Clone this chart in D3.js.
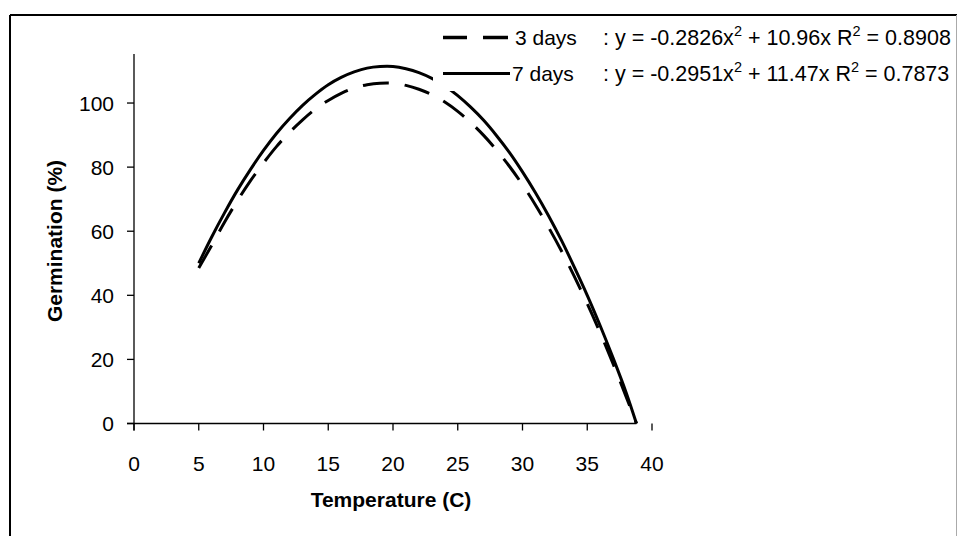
<!DOCTYPE html>
<html>
<head>
<meta charset="utf-8">
<script src="https://cdn.jsdelivr.net/npm/d3@7"></script>
<style>
  body { margin: 0; background: #fff; }
  svg { display: block; font-family: "Liberation Sans", Arial, sans-serif; }
</style>
</head>
<body>
<svg class="chart" width="957" height="536"></svg>
<script>
// temperatures (C) and germination (%)
const temps = [5, 6, 7, 8, 9, 10, 11, 12, 13, 14, 15, 16, 17, 18, 19, 20, 21, 22,
  23, 24, 25, 26, 27, 28, 29, 30, 31, 32, 33, 34, 35, 36, 37, 38, 38.8]
const days3 = [48.5, 55.6, 62.9, 69.6, 75.8, 81.3, 86.4, 90.8, 94.7, 98.1, 100.8, 103.0,
  104.7, 105.7, 106.2, 106.2, 105.5, 104.3, 102.6, 100.3, 97.4, 93.9, 89.9, 85.3,
  80.2, 74.5, 68.2, 61.3, 53.9, 45.9, 37.4, 28.3, 18.6, 8.4, 0]
const days7 = [50.0, 58.2, 65.8, 72.9, 79.3, 85.2, 90.5, 95.1, 99.2, 102.7, 105.7, 108.0,
  109.7, 110.9, 111.4, 111.4, 110.7, 109.5, 107.7, 105.3, 102.3, 98.7, 94.6, 89.8,
  84.5, 78.5, 72.0, 64.9, 57.2, 48.8, 40.0, 30.5, 20.4, 9.7, 0]

const xTicks = [0, 5, 10, 15, 20, 25, 30, 35, 40]
const yTicks = [0, 20, 40, 60, 80, 100]

const seriesNames = ['3 days', '7 days']
const equations = [
  ['-0.2826', '10.96', '0.8908'],
  ['-0.2951', '11.47', '0.7873']
]

const svg = d3.select('svg.chart')

const x = d3.scaleLinear().domain([0, 40]).range([134, 652])
const y = d3.scaleLinear().domain([0, 115.3]).range([423.5, 54])

// outer frame
svg.append('line').attr('x1', 10).attr('x2', 957).attr('y1', 15).attr('y2', 15)
  .attr('stroke', '#000').attr('stroke-width', 2)
svg.append('line').attr('x1', 10).attr('x2', 10).attr('y1', 15).attr('y2', 536)
  .attr('stroke', '#000').attr('stroke-width', 2)
svg.append('line').attr('x1', 956.5).attr('x2', 956.5).attr('y1', 15).attr('y2', 536)
  .attr('stroke', '#aaa').attr('stroke-width', 1)

// axes
const axisG = svg.append('g')
axisG.append('line')
  .attr('x1', x(0)).attr('x2', x(0)).attr('y1', y(115.3)).attr('y2', y(0) + 7)
  .attr('stroke', '#000').attr('stroke-width', 1.3)
axisG.append('line')
  .attr('x1', x(0) - 7).attr('x2', x(38.8)).attr('y1', y(0)).attr('y2', y(0))
  .attr('stroke', '#000').attr('stroke-width', 1.3)

axisG.selectAll('.ytick').data(yTicks).enter().append('line')
  .attr('class', 'ytick')
  .attr('x1', x(0) - 7).attr('x2', x(0))
  .attr('y1', d => y(d)).attr('y2', d => y(d))
  .attr('stroke', '#000').attr('stroke-width', 1.3)
axisG.selectAll('.ylab').data(yTicks).enter().append('text')
  .attr('class', 'ylab')
  .attr('x', 114).attr('y', d => y(d) + 7.5)
  .attr('text-anchor', 'end')
  .attr('font-size', 21)
  .text(d => d)

axisG.selectAll('.xtick').data(xTicks).enter().append('line')
  .attr('class', 'xtick')
  .attr('x1', d => x(d)).attr('x2', d => x(d))
  .attr('y1', y(0)).attr('y2', y(0) + 7)
  .attr('stroke', '#000').attr('stroke-width', 1.3)
axisG.selectAll('.xlab').data(xTicks).enter().append('text')
  .attr('class', 'xlab')
  .attr('x', d => x(d)).attr('y', 471)
  .attr('text-anchor', 'middle')
  .attr('font-size', 21)
  .text(d => d)

svg.append('text')
  .attr('x', 391).attr('y', 507)
  .attr('text-anchor', 'middle')
  .attr('font-size', 21).attr('font-weight', 'bold')
  .text('Temperature (C)')
svg.append('text')
  .attr('transform', 'translate(62, 241) rotate(-90)')
  .attr('text-anchor', 'middle')
  .attr('font-size', 21).attr('font-weight', 'bold')
  .text('Germination (%)')

// curves
const line = d3.line()
  .x(d => x(d[0]))
  .y(d => y(d[1]))
  .curve(d3.curveCatmullRom)

svg.append('path')
  .datum(temps.map((t, i) => [t, days3[i]]))
  .attr('d', line)
  .attr('fill', 'none').attr('stroke', '#000').attr('stroke-width', 3)
  .attr('stroke-dasharray', '26,16')
svg.append('path')
  .datum(temps.map((t, i) => [t, days7[i]]))
  .attr('d', line)
  .attr('fill', 'none').attr('stroke', '#000').attr('stroke-width', 3)

// legend (white box sits over the plot)
const legend = svg.append('g')
legend.append('rect')
  .attr('x', 433).attr('y', 17).attr('width', 522).attr('height', 74)
  .attr('fill', '#fff')

const rowY = [37.5, 73.5]
legend.append('line').attr('x1', 443).attr('x2', 467).attr('y1', rowY[0]).attr('y2', rowY[0])
  .attr('stroke', '#000').attr('stroke-width', 3.5)
legend.append('line').attr('x1', 483).attr('x2', 508).attr('y1', rowY[0]).attr('y2', rowY[0])
  .attr('stroke', '#000').attr('stroke-width', 3.5)
legend.append('line').attr('x1', 443).attr('x2', 510).attr('y1', rowY[1]).attr('y2', rowY[1])
  .attr('stroke', '#000').attr('stroke-width', 3)

seriesNames.forEach((name, i) => {
  legend.append('text')
    .attr('x', i === 0 ? 515 : 512).attr('y', rowY[i] + 7.5)
    .attr('font-size', 21)
    .text(name)
  const eq = equations[i]
  const t = legend.append('text')
    .attr('x', 603).attr('y', rowY[i] + 7.5)
    .attr('font-size', 21.5)
  t.append('tspan').text(`: y = ${eq[0]}x`)
  t.append('tspan').attr('dy', -9).attr('font-size', 14.5).text('2')
  t.append('tspan').attr('dy', 9).text(` + ${eq[1]}x R`)
  t.append('tspan').attr('dy', -9).attr('font-size', 14.5).text('2')
  t.append('tspan').attr('dy', 9).text(` = ${eq[2]}`)
})
</script>
</body>
</html>
